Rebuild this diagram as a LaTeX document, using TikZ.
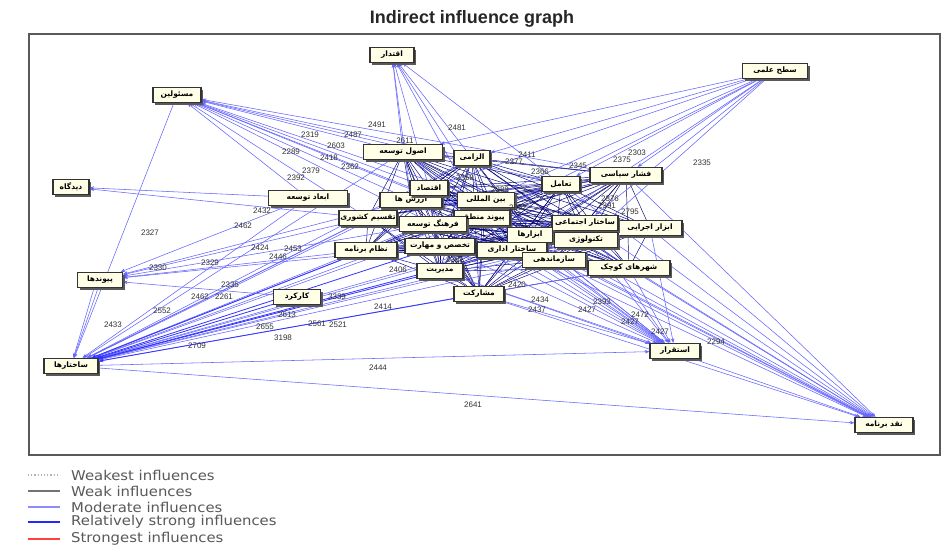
\documentclass[tikz,border=0pt]{standalone}
\usepackage{fontspec}
\setmainfont{Liberation Sans}
\newfontfamily\arabicfont[Script=Arabic]{DejaVu Sans}
\newfontfamily\legendfont[FakeStretch=1.1]{DejaVu Sans}
\TeXXeTstate=1
\usetikzlibrary{arrows.meta, shadows}

\pgfdeclarelayer{bottom}
\pgfdeclarelayer{edges}
\pgfsetlayers{bottom,edges,main}

\newcommand{\fatxt}[1]{{\arabicfont\bfseries\beginR #1\endR}}

\tikzset{
  factor/.style={rectangle, draw=black!80, line width=1.3pt, fill=yellow!10,
    inner sep=1.5pt, minimum height=15pt, font=\fontsize{7.5}{9}\selectfont,
    drop shadow={shadow xshift=2pt, shadow yshift=-2pt, fill=black!65, opacity=1}},
  moderate/.style={draw=blue!60, line width=0.55pt, -{Stealth[length=4.5pt,width=3.5pt]}},
  strong/.style={draw=blue!80, line width=0.8pt, -{Stealth[length=4.5pt,width=3.5pt]}},
  mesh/.style={draw=blue!45!black, line width=0.45pt},
  numlbl/.style={font=\fontsize{8}{8}\selectfont, text=black!80, inner sep=0pt},
  legtext/.style={anchor=west, font=\legendfont\fontsize{13.5}{13.5}\selectfont, text=black!65, inner sep=0pt},
}

\begin{document}
\begin{tikzpicture}[x=1pt, y=-1pt]
    \useasboundingbox (0,0) rectangle (944,555);
    \begin{pgfonlayer}{bottom}
      \fill[white] (0,0) rectangle (944,555);
      \draw[black!65, line width=1.5pt] (29,34) rectangle (940,455);
    \end{pgfonlayer}

    \node[font=\bfseries\fontsize{18}{18}\selectfont, text=black!85] (title) at (472,19) {Indirect influence graph};

    % outer factors
    \node[factor, minimum width=44] (eqt) at (392,55) {\fatxt{اقتدار}};
    \node[factor, minimum width=65] (sat) at (775,71) {\fatxt{سطح علمی}};
    \node[factor, minimum width=48] (mas) at (177,95) {\fatxt{مسئولین}};
    \node[factor, minimum width=36] (did) at (71,187) {\fatxt{دیدگاه}};
    \node[factor, minimum width=45] (pay) at (100,280) {\fatxt{پیوندها}};
    \node[factor, minimum width=54] (sak) at (71,366) {\fatxt{ساختارها}};
    \node[factor, minimum width=58] (naq) at (884,425) {\fatxt{نقد برنامه}};
    \node[factor, minimum width=50] (est) at (675,351) {\fatxt{استقرار}};

    % central factors
    \node[factor, minimum width=79] (osu) at (403,152) {\fatxt{اصول توسعه}};
    \node[factor, minimum width=36] (elz) at (472,158) {\fatxt{الزامی}};
    \node[factor, minimum width=79] (abt) at (308,198) {\fatxt{ابعاد توسعه}};
    \node[factor, minimum width=62] (arz) at (411,200) {\fatxt{ارزش ها}};
    \node[factor, minimum width=38] (eqs) at (429,188) {\fatxt{اقتصاد}};
    \node[factor, minimum width=57] (bin) at (486,200) {\fatxt{بین المللی}};
    \node[factor, minimum width=72] (fsh) at (626,175) {\fatxt{فشار سیاسی}};
    \node[factor, minimum width=38] (taa) at (561,184) {\fatxt{تعامل}};
    \node[factor, minimum width=57] (tqs) at (368,218) {\fatxt{تقسیم کشوری}};
    \node[factor, minimum width=56] (pyv) at (482,218) {\fatxt{پیوند منطقه}};
    \node[factor, minimum width=67] (frh) at (433,224) {\fatxt{فرهنگ توسعه}};
    \node[factor, minimum width=64] (ajr) at (650,228) {\fatxt{ابزار اجرایی}};
    \node[factor, minimum width=66] (nyz) at (585,223) {\fatxt{ساختار اجتماعی}};
    \node[factor, minimum width=45] (abz) at (530,235) {\fatxt{ابزارها}};
    \node[factor, minimum width=63] (tkn) at (586,240) {\fatxt{تکنولوژی}};
    \node[factor, minimum width=62] (nzm) at (366,250) {\fatxt{نظام برنامه}};
    \node[factor, minimum width=70] (tkh) at (440,246) {\fatxt{تخصص و مهارت}};
    \node[factor, minimum width=70] (sad) at (512,250) {\fatxt{ساختار اداری}};
    \node[factor, minimum width=63] (saz) at (554,260) {\fatxt{سازماندهی}};
    \node[factor, minimum width=82] (shk) at (629,268) {\fatxt{شهرهای کوچک}};
    \node[factor, minimum width=46] (mdr) at (440,271) {\fatxt{مدیریت}};
    \node[factor, minimum width=47] (kar) at (297,297) {\fatxt{کارکرد}};
    \node[factor, minimum width=50] (msh) at (479,294) {\fatxt{مشارکت}};

    \begin{pgfonlayer}{edges}
      % dense links inside the core
      \foreach \a [count=\i] in {osu,elz,eqs,arz,bin,taa,tqs,pyv,frh,nyz,abz,tkn,tkh,sad,saz,mdr,msh,nzm,shk,ajr,fsh}
        \foreach \b [count=\j] in {osu,elz,eqs,arz,bin,taa,tqs,pyv,frh,nyz,abz,tkn,tkh,sad,saz,mdr,msh,nzm,shk,ajr,fsh}
          {\ifnum\i<\j \draw[mesh] (\a) -- (\b); \fi}

      \foreach \s in {abt,tqs,frh,arz,osu,eqs,bin,pyv,abz,tkn,nyz,ajr,taa,elz,saz,shk}
        \draw[moderate] (\s) -- (sak);
      \foreach \s in {nzm,kar,tkh,mdr,msh,sad}
        \draw[strong] (\s) -- (sak);
      \draw[moderate] (mas) -- (sak);
      \draw[moderate] ([xshift=-6pt]pay.south) -- (sak);
      \draw[moderate] ([xshift=-2pt]pay.south) -- (sak);

      \foreach \s in {osu,elz,eqs,arz,bin,taa,pyv,frh,tqs,abt,fsh,abz}
        \draw[moderate] (\s) -- (mas);
      \foreach \s in {osu,elz,eqs,arz,bin,pyv,taa}
        \draw[moderate] (\s) -- (eqt);
      \foreach \t in {taa,fsh,bin,elz,eqs,pyv,abz,nyz,tkn,osu}
        \draw[moderate] (sat) -- (\t);
      \foreach \s in {abt,tqs}
        \draw[moderate] (\s) -- (did);
      \foreach \s in {abt,tqs,nzm,frh,kar,arz,tkh}
        \draw[moderate] (\s) -- (pay);
      \foreach \s in {frh,tkh,sad,saz,shk,tkn,abz,mdr,msh,nyz,ajr,bin,eqs,pyv,arz,osu}
        \draw[moderate] (\s) -- (est);
      \foreach \s in {shk,saz,tkn,ajr,nyz,taa,fsh,sad,abz,msh,bin,pyv,eqs,mdr}
        \draw[moderate] (\s) -- (naq);
      \draw[moderate] (sak) -- (est);
      \draw[moderate] (sak) -- (naq);
    \end{pgfonlayer}

    % influence values
    \foreach \x/\y/\v [count=\k] in {377/125/2491, 457/128/2481, 310/135/2319, 353/135/2487,
        336/146/2603, 405/141/2611, 291/152/2289, 329/158/2418, 311/171/2379, 296/178/2392,
        527/155/2411, 514/162/2377, 637/153/2303, 578/166/2345, 622/160/2375, 702/163/2335,
        610/199/2376, 607/206/2391, 630/212/2795, 150/233/2327, 262/211/2432, 243/226/2462,
        293/249/2453, 260/248/2424, 158/268/2330, 210/263/2329, 230/285/2335, 200/297/2462,
        224/297/2261, 162/311/2552, 113/325/2433, 197/346/2709, 283/338/3198, 287/315/2613,
        265/327/2655, 317/324/2561, 338/325/2521, 337/297/3339, 383/307/2414, 378/368/2444,
        473/405/2641, 716/342/2294, 517/285/2420, 540/300/2434, 537/310/2437, 602/302/2393,
        587/310/2427, 640/315/2472, 630/322/2427, 660/332/2427, 350/167/2362, 465/178/2359,
        500/190/2388, 518/208/2352, 455/260/2381, 540/172/2366, 398/270/2406, 278/257/2446}
      \node[numlbl] (v\k) at (\x,\y) {\v};

    % legend
    \draw[black!30, dotted, line width=1.2pt] (28,475) -- (60,475);
    \draw[black!55, line width=1.5pt] (28,491) -- (60,491);
    \draw[blue!45, line width=1.8pt] (28,507) -- (60,507);
    \draw[blue!85, line width=2pt] (28,522) -- (60,522);
    \draw[red!75, line width=2pt] (28,539) -- (60,539);
    \node[legtext] (lg1) at (71,475) {Weakest influences};
    \node[legtext] (lg2) at (71,491) {Weak influences};
    \node[legtext] (lg3) at (71,507) {Moderate influences};
    \node[legtext] (lg4) at (71,522) {Relatively strong influences};
    \node[legtext] (lg5) at (71,539) {Strongest influences};
\end{tikzpicture}
\end{document}
